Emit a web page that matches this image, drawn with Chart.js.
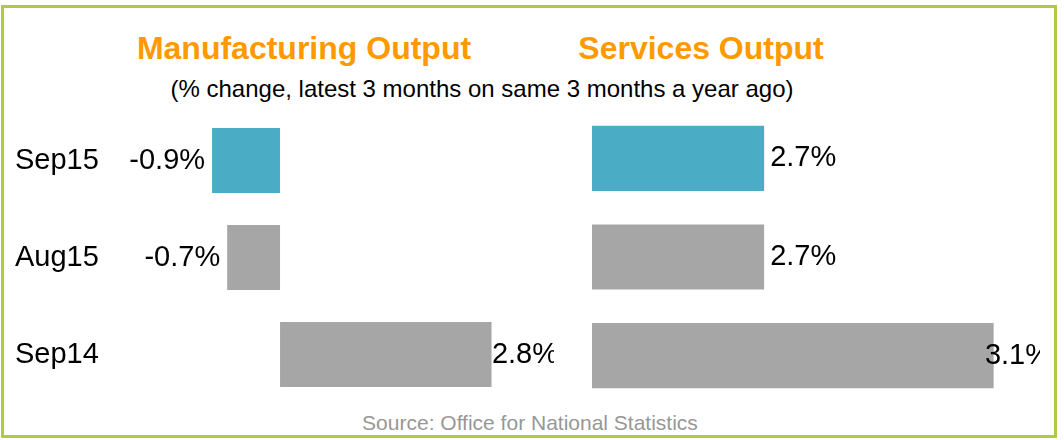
<!DOCTYPE html>
<html>
<head>
<meta charset="utf-8">
<script src="https://cdn.jsdelivr.net/npm/chart.js@4/dist/chart.umd.min.js"></script>
<style>
  body { margin: 0; background: #fff; font-family: "Liberation Sans", Arial, sans-serif; }
  #page { position: relative; width: 1064px; height: 440px; overflow: hidden; }
  .frame { position: absolute; left: 1px; top: 5px; width: 1056px; height: 433px; box-sizing: border-box; border: 3px solid #AFCB3F; }
  .txt { position: absolute; width: 640px; text-align: center; white-space: nowrap; }
  .title { font-size: 32px; line-height: 32px; font-weight: bold; color: #FF9900; }
  .box { position: absolute; overflow: hidden; }
  canvas { display: block; }
</style>
</head>
<body>
<div id="page">
  <div class="frame"></div>
  <div class="txt title" style="left:-16px; top:32px;">Manufacturing Output</div>
  <div class="txt title" style="left:381px; top:32px;">Services Output</div>
  <div class="txt" style="left:162px; top:77px; font-size:24px; line-height:24px; color:#000;">(% change, latest 3 months on same 3 months a year ago)</div>
  <div class="txt" style="left:210px; top:412px; font-size:21px; line-height:21px; color:#979797;">Source: Office for National Statistics</div>

  <div class="box" style="left:0; top:94px; width:554px; height:327px;">
    <canvas id="chartManuf" width="580" height="327"></canvas>
  </div>
  <div class="box" style="left:592px; top:91px; width:448px; height:332px;">
    <canvas id="chartServ" width="459" height="332"></canvas>
  </div>
</div>

<script>
// datos
const categorias = ['Sep15', 'Aug15', 'Sep14'];
const manufactura = [-0.9, -0.7, 2.8];
const servicios = [2.7, 2.7, 3.1];
const coloresBarras = ['#4BACC6', '#A6A6A6', '#A6A6A6'];

const fuente = '"Liberation Sans", Arial, sans-serif';

// etiquetas de valor al final de cada barra (se mantienen dentro del area del grafico)
const etiquetasValor = {
    id: 'etiquetasValor',
    afterDatasetsDraw(chart) {
        const ctx = chart.ctx;
        const meta = chart.getDatasetMeta(0);
        const datos = chart.data.datasets[0].data;
        const area = chart.chartArea;
        ctx.save();
        ctx.font = `29px ${fuente}`;
        ctx.fillStyle = '#000';
        ctx.textBaseline = 'middle';
        meta.data.forEach((barra, i) => {
            const valor = datos[i];
            const texto = valor.toFixed(1) + '%';
            if (valor < 0) {
                ctx.textAlign = 'right';
                ctx.fillText(texto, barra.x - 7, barra.y);
            } else {
                ctx.textAlign = 'left';
                const ancho = ctx.measureText(texto).width;
                const x = Math.min(barra.x + 6, area.right - ancho);
                ctx.fillText(texto, x, barra.y);
            }
        });
        ctx.restore();
    }
};

const opcionesBase = (escalaX, escalaY) => ({
    indexAxis: 'y',
    responsive: false,
    animation: false,
    layout: { padding: escalaX.padding },
    plugins: { legend: { display: false }, tooltip: { enabled: false } },
    scales: {
        x: escalaX.scale,
        y: escalaY
    }
});

new Chart(document.querySelector('#chartManuf'), {
    type: 'bar',
    data: {
        labels: categorias,
        datasets: [{
            data: manufactura,
            backgroundColor: coloresBarras,
            barPercentage: 0.67,
            categoryPercentage: 1
        }]
    },
    options: opcionesBase(
        {
            padding: { left: 15, right: 22, top: 18, bottom: 18 },
            scale: { min: -1.5, max: 3.68, display: false }
        },
        {
            grid: { display: false },
            border: { display: false },
            ticks: {
                crossAlign: 'far',
                padding: 0,
                color: '#000',
                font: { size: 29, family: fuente }
            },
            afterFit: (s) => { s.width = 151.75; }
        }
    ),
    plugins: [etiquetasValor]
});

new Chart(document.querySelector('#chartServ'), {
    type: 'bar',
    data: {
        labels: categorias,
        datasets: [{
            data: servicios,
            backgroundColor: coloresBarras,
            barPercentage: 0.66,
            categoryPercentage: 1
        }]
    },
    options: opcionesBase(
        {
            padding: { left: 0, right: 0, top: 18, bottom: 18 },
            scale: { min: 2.4, max: 3.2, beginAtZero: false, display: false }
        },
        { display: false }
    ),
    plugins: [etiquetasValor]
});
</script>
</body>
</html>
